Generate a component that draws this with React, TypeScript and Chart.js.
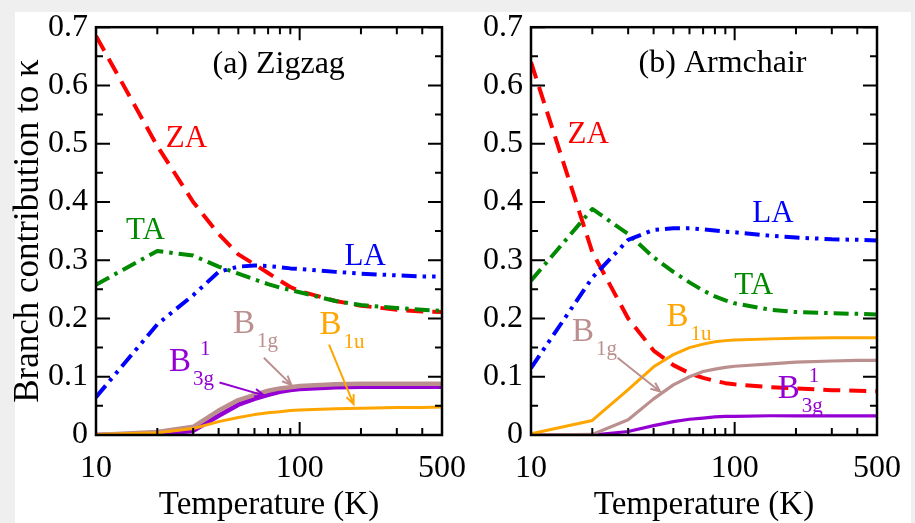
import React, { useEffect, useRef } from "react";
import { Chart, registerables } from "chart.js";

Chart.register(...registerables);

const SERIF = '"Liberation Serif", "Times New Roman", serif';

// ---------- data ----------
const temperatures = [10, 20, 30, 40, 50, 60, 70, 80, 90, 100, 150, 200, 300, 400, 500];

// (a) Zigzag
const zigZA = [0.685, 0.496, 0.4, 0.345, 0.31, 0.293, 0.278, 0.265, 0.254, 0.247, 0.23, 0.222, 0.215, 0.212, 0.211];
const zigTA = [0.258, 0.316, 0.308, 0.289, 0.277, 0.267, 0.259, 0.253, 0.249, 0.245, 0.23, 0.223, 0.218, 0.215, 0.213];
const zigLA = [0.065, 0.19, 0.24, 0.28, 0.289, 0.291, 0.29, 0.288, 0.286, 0.285, 0.28, 0.277, 0.274, 0.272, 0.272];
const zigB1g = [0, 0.005, 0.014, 0.042, 0.06, 0.069, 0.076, 0.08, 0.082, 0.084, 0.087, 0.088, 0.088, 0.088, 0.088];
const zigB3g = [0, 0.002, 0.007, 0.033, 0.052, 0.062, 0.069, 0.074, 0.077, 0.079, 0.082, 0.083, 0.083, 0.083, 0.083];
const zigB1u = [0.001, 0.004, 0.011, 0.023, 0.03, 0.035, 0.038, 0.04, 0.042, 0.043, 0.045, 0.046, 0.047, 0.047, 0.048];

// (b) Armchair
const armZA = [0.64, 0.314, 0.2, 0.145, 0.12, 0.106, 0.098, 0.093, 0.089, 0.087, 0.082, 0.08, 0.077, 0.076, 0.075];
const armTA = [0.265, 0.388, 0.345, 0.305, 0.28, 0.262, 0.248, 0.238, 0.231, 0.226, 0.215, 0.211, 0.209, 0.208, 0.207];
const armLA = [0.115, 0.27, 0.335, 0.352, 0.355, 0.355, 0.353, 0.351, 0.349, 0.348, 0.342, 0.339, 0.336, 0.335, 0.334];
const armB1u = [0.002, 0.025, 0.078, 0.117, 0.138, 0.15, 0.156, 0.16, 0.162, 0.163, 0.165, 0.166, 0.167, 0.167, 0.167];
const armB1g = [0, 0.001, 0.026, 0.062, 0.086, 0.1, 0.109, 0.113, 0.116, 0.118, 0.122, 0.125, 0.127, 0.128, 0.128];
const armB3g = [0, 0, 0.006, 0.016, 0.023, 0.027, 0.029, 0.031, 0.032, 0.032, 0.033, 0.033, 0.033, 0.033, 0.033];

// ticks
const xTickLabels = [10, 100, 500];
const xMajorTicks = [10, 100];
const xMinorTicks = [20, 30, 40, 50, 60, 70, 80, 90, 200, 300, 400];
const yTickLabels = [0, 0.1, 0.2, 0.3, 0.4, 0.5, 0.6, 0.7];
const yMinorTicks = [0.05, 0.15, 0.25, 0.35, 0.45, 0.55, 0.65];

// ---------- annotations (data coordinates) ----------
type TextNote = { text: string; t: number; v: number; color: string; size: number };
type BNote = { sub: string; sup?: string; t: number; v: number; color: string };
type ArrowNote = { t0: number; v0: number; t1: number; v1: number; color: string };

const COLORS = {
  ZA: "#ff0000",
  TA: "#008a00",
  LA: "#0000ff",
  B1g: "#bc8f8f",
  B3g: "#9400d3",
  B1u: "#ffa500",
};

const zigTexts: TextNote[] = [
  { text: "(a) Zigzag", t: 78.9, v: 0.636, color: "#000", size: 32 },
  { text: "ZA", t: 27.8, v: 0.508, color: COLORS.ZA, size: 31 },
  { text: "TA", t: 17.5, v: 0.35, color: COLORS.TA, size: 31 },
  { text: "LA", t: 210, v: 0.306, color: COLORS.LA, size: 31 },
];
const zigBLabels: BNote[] = [
  { sub: "1g", t: 47.1, v: 0.175, color: COLORS.B1g },
  { sub: "3g", sup: "1", t: 22.8, v: 0.11, color: COLORS.B3g },
  { sub: "1u", t: 125.3, v: 0.173, color: COLORS.B1u },
];
const zigArrows: ArrowNote[] = [
  { t0: 66.7, v0: 0.1325, t1: 91.1, v1: 0.086, color: COLORS.B1g },
  { t0: 40.4, v0: 0.09, t1: 66.7, v1: 0.068, color: COLORS.B3g },
  { t0: 139.4, v0: 0.155, t1: 184, v1: 0.053, color: COLORS.B1u },
];

const armTexts: TextNote[] = [
  { text: "(b) Armchair", t: 87.2, v: 0.637, color: "#000", size: 32 },
  { text: "ZA", t: 19.1, v: 0.515, color: COLORS.ZA, size: 31 },
  { text: "LA", t: 154.3, v: 0.379, color: COLORS.LA, size: 31 },
  { text: "TA", t: 124, v: 0.2565, color: COLORS.TA, size: 31 },
];
const armBLabels: BNote[] = [
  { sub: "1u", t: 46.3, v: 0.1877, color: COLORS.B1u },
  { sub: "1g", t: 15.9, v: 0.1614, color: COLORS.B1g },
  { sub: "3g", sup: "1", t: 162.7, v: 0.0635, color: COLORS.B3g },
];
const armArrows: ArrowNote[] = [
  { t0: 26.6, v0: 0.1325, t1: 43.0, v1: 0.0748, color: COLORS.B1g },
];

// ---------- helpers ----------
function series(label: string, values: number[], color: string, width: number, dash: number[]) {
  return {
    label,
    data: temperatures.map((t, i) => ({ x: t, y: values[i] })),
    borderColor: color,
    backgroundColor: color,
    borderWidth: width,
    borderDash: dash,
    borderCapStyle: "butt",
    borderJoinStyle: "round",
    pointRadius: 0,
    tension: 0,
    fill: false,
  };
}

const DASH = [17, 9];
const DASH_DOT = [15, 6, 3.5, 6];
const DASH_DOT_DOT = [15, 6, 3.5, 6, 3.5, 6];

function framePlugin() {
  return {
    id: "frameTicks",
    afterDatasetsDraw(chart: any) {
      const { ctx, chartArea: a, scales } = chart;
      const x = scales.x;
      const y = scales.y;
      ctx.save();
      ctx.strokeStyle = "#000";
      ctx.lineWidth = 2;
      ctx.beginPath();
      const xt = (vals: number[], len: number) => {
        for (const t of vals) {
          const px = x.getPixelForValue(t);
          ctx.moveTo(px, a.bottom);
          ctx.lineTo(px, a.bottom - len);
          ctx.moveTo(px, a.top);
          ctx.lineTo(px, a.top + len);
        }
      };
      const yt = (vals: number[], len: number) => {
        for (const v of vals) {
          const py = y.getPixelForValue(v);
          ctx.moveTo(a.left, py);
          ctx.lineTo(a.left + len, py);
          ctx.moveTo(a.right, py);
          ctx.lineTo(a.right - len, py);
        }
      };
      xt(xMajorTicks, 13);
      xt(xMinorTicks, 7);
      yt(yTickLabels, 14);
      yt(yMinorTicks, 7);
      ctx.stroke();
      ctx.lineWidth = 2.5;
      ctx.strokeRect(a.left, a.top, a.right - a.left, a.bottom - a.top);
      ctx.restore();
    },
  };
}

function notesPlugin(texts: TextNote[], bLabels: BNote[], arrows: ArrowNote[]) {
  return {
    id: "notes",
    afterDraw(chart: any) {
      const { ctx, scales } = chart;
      const x = scales.x;
      const y = scales.y;
      ctx.save();
      for (const n of texts) {
        ctx.font = `${n.size}px ${SERIF}`;
        ctx.fillStyle = n.color;
        ctx.textAlign = "center";
        ctx.textBaseline = "middle";
        ctx.fillText(n.text, x.getPixelForValue(n.t), y.getPixelForValue(n.v));
      }
      for (const b of bLabels) {
        const px = x.getPixelForValue(b.t);
        const py = y.getPixelForValue(b.v);
        ctx.fillStyle = b.color;
        ctx.textAlign = "left";
        ctx.textBaseline = "alphabetic";
        ctx.font = `33px ${SERIF}`;
        ctx.fillText("B", px, py);
        const w = ctx.measureText("B").width;
        ctx.font = `21px ${SERIF}`;
        ctx.fillText(b.sub, px + w + 2, py + 14);
        if (b.sup) ctx.fillText(b.sup, px + w + 9, py - 16);
      }
      for (const ar of arrows) {
        const x0 = x.getPixelForValue(ar.t0);
        const y0 = y.getPixelForValue(ar.v0);
        const x1 = x.getPixelForValue(ar.t1);
        const y1 = y.getPixelForValue(ar.v1);
        const ang = Math.atan2(y1 - y0, x1 - x0);
        const head = 10;
        ctx.strokeStyle = ar.color;
        ctx.lineWidth = 2;
        ctx.beginPath();
        ctx.moveTo(x0, y0);
        ctx.lineTo(x1, y1);
        ctx.moveTo(x1 - head * Math.cos(ang - 0.4), y1 - head * Math.sin(ang - 0.4));
        ctx.lineTo(x1, y1);
        ctx.lineTo(x1 - head * Math.cos(ang + 0.4), y1 - head * Math.sin(ang + 0.4));
        ctx.stroke();
      }
      ctx.restore();
    },
  };
}

function buildConfig(opts: {
  za: number[]; ta: number[]; la: number[]; b1g: number[]; b3g: number[]; b1u: number[];
  yWidth: number; yTitle: boolean; texts: TextNote[]; bLabels: BNote[]; arrows: ArrowNote[];
  bWidth: number;
}): any {
  const datasets = [
    series("B1u", opts.b1u, COLORS.B1u, 3, []),
    series("B1g", opts.b1g, COLORS.B1g, opts.bWidth, []),
    series("B3g", opts.b3g, COLORS.B3g, opts.bWidth, []),
    series("LA", opts.la, COLORS.LA, 4, DASH_DOT_DOT),
    series("TA", opts.ta, COLORS.TA, 4, DASH_DOT),
    series("ZA", opts.za, COLORS.ZA, 4, DASH),
  ];
  return {
    type: "line",
    data: { datasets },
    options: {
      animation: false,
      responsive: false,
      maintainAspectRatio: false,
      layout: { padding: { left: 0, top: 23, right: 28, bottom: 0 } },
      plugins: { legend: { display: false }, tooltip: { enabled: false } },
      scales: {
        x: {
          type: "logarithmic",
          min: 10,
          max: 500,
          grid: { display: false, drawTicks: false },
          border: { display: false },
          afterBuildTicks: (s: any) => {
            s.ticks = xTickLabels.map((v) => ({ value: v }));
          },
          ticks: {
            autoSkip: false,
            maxRotation: 0,
            minRotation: 0,
            padding: 14,
            color: "#000",
            font: { family: SERIF, size: 32 },
            callback: (v: any) => String(v),
          },
          title: {
            display: true,
            text: "Temperature (K)",
            color: "#000",
            font: { family: SERIF, size: 33, lineHeight: 1.1 },
            padding: 0,
          },
          afterFit: (s: any) => {
            s.height = 88;
          },
        },
        y: {
          type: "linear",
          min: 0,
          max: 0.7,
          grid: { display: false, drawTicks: false },
          border: { display: false },
          afterBuildTicks: (s: any) => {
            s.ticks = yTickLabels.map((v) => ({ value: v }));
          },
          ticks: {
            padding: 8,
            color: "#000",
            font: { family: SERIF, size: 32 },
            callback: (v: any) => (v === 0 ? "0" : Number(v).toFixed(1)),
          },
          title: {
            display: opts.yTitle,
            text: "Branch contribution to κ",
            color: "#000",
            font: { family: SERIF, size: 35, lineHeight: 1.1 },
            padding: { top: 10, bottom: 0 },
          },
          afterFit: (s: any) => {
            s.width = opts.yWidth;
          },
        },
      },
    },
    plugins: [framePlugin(), notesPlugin(opts.texts, opts.bLabels, opts.arrows)],
  };
}

export default function App() {
  const leftRef = useRef<HTMLCanvasElement>(null);
  const rightRef = useRef<HTMLCanvasElement>(null);

  useEffect(() => {
    const c1 = new Chart(
      leftRef.current as HTMLCanvasElement,
      buildConfig({
        za: zigZA, ta: zigTA, la: zigLA, b1g: zigB1g, b3g: zigB3g, b1u: zigB1u,
        yWidth: 96, yTitle: true, texts: zigTexts, bLabels: zigBLabels, arrows: zigArrows, bWidth: 4.5,
      })
    );
    const c2 = new Chart(
      rightRef.current as HTMLCanvasElement,
      buildConfig({
        za: armZA, ta: armTA, la: armLA, b1g: armB1g, b3g: armB3g, b1u: armB1u,
        yWidth: 51, yTitle: false, texts: armTexts, bLabels: armBLabels, arrows: armArrows, bWidth: 3.2,
      })
    );
    return () => {
      c1.destroy();
      c2.destroy();
    };
  }, []);

  return (
    <div
      style={{
        position: "fixed",
        left: 0,
        top: 0,
        width: 915,
        height: 523,
        background: "#efefef",
        overflow: "hidden",
      }}
    >
      <div style={{ position: "absolute", left: 15, top: 12, width: 896, height: 511, background: "#ffffff" }} />
      <canvas
        ref={leftRef}
        width={480}
        height={523}
        style={{ position: "absolute", left: 0, top: 0, width: 480, height: 523 }}
      />
      <canvas
        ref={rightRef}
        width={435}
        height={523}
        style={{ position: "absolute", left: 480, top: 0, width: 435, height: 523 }}
      />
    </div>
  );
}
